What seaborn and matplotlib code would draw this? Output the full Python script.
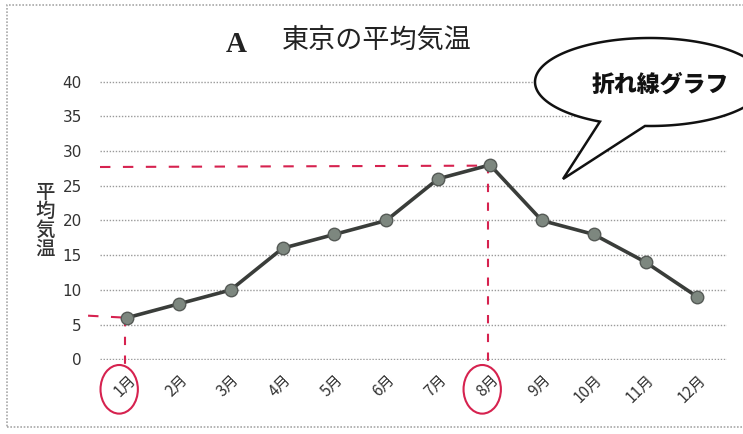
import numpy as np
import pandas as pd
import matplotlib
matplotlib.use("Agg")
import matplotlib.pyplot as plt
from matplotlib.patches import Ellipse, PathPatch, Rectangle
from matplotlib.path import Path
import seaborn as sns

# 東京の月別平均気温
months = ["1月", "2月", "3月", "4月", "5月", "6月",
          "7月", "8月", "9月", "10月", "11月", "12月"]
temps = [6, 8, 10, 16, 18, 20, 26, 28, 20, 18, 14, 9]
yticks = [0, 5, 10, 15, 20, 25, 30, 35, 40]
highlight = ["1月", "8月"]

sns.set_theme(style="white")
plt.rcParams["font.family"] = ["Noto Sans CJK JP", "DejaVu Sans"]

W, H = 743, 434
fig = plt.figure(figsize=(W / 100, H / 100), dpi=100)
fig.patch.set_facecolor("white")

# outer frame (dotted gray)
fig.patches.append(Rectangle((7 / W, (H - 427) / H), 760 / W, 422 / H,
                             transform=fig.transFigure, fill=False,
                             edgecolor="#a8a8a8", lw=1.2, ls=(0, (1, 1))))

ax = fig.add_axes([100 / W, 74 / H, 627 / W, 279 / H])
ax.set_facecolor("none")

df = pd.DataFrame({"month": months, "temp": temps})
sns.lineplot(data=df, x="month", y="temp", sort=False, ax=ax,
             color="#3a3d3a", lw=2.6, marker="o", markersize=9,
             markerfacecolor="#7d877f", markeredgecolor="#555a56",
             markeredgewidth=1.0, zorder=5)

ax.set_ylim(-0.08, 40.08)
ax.set_xlim(-0.52, 11.57)
ax.set_yticks(yticks)
ax.set_yticklabels([str(v) for v in yticks], fontsize=11, color="#333333",
                   family=["DejaVu Sans"])
ax.yaxis.grid(True, color="#9a9a9a", lw=1.0, ls=(0, (1, 1.2)))
ax.xaxis.grid(False)
for s in ax.spines.values():
    s.set_visible(False)
ax.tick_params(axis="both", length=0)
ax.tick_params(axis="y", pad=13)
ax.tick_params(axis="x", pad=8)
ax.set_xticks(range(len(months)))
ax.set_xticklabels(months, rotation=45, ha="right", rotation_mode="anchor",
                   fontsize=11, color="#333333")
ax.set_xlabel("")
ax.set_ylabel("")

# vertical axis title, stacked characters
fig.text(45 / W, (H - 221) / H, "平\n均\n気\n温", ha="center", va="center",
         fontsize=14, fontweight="medium", color="#333333", linespacing=1.0)

# chart title
fig.text(236 / W, (H - 44) / H, "A", ha="center", va="center",
         fontsize=21, fontweight="bold", family=["Liberation Serif"],
         color="#222222")
fig.text(282 / W, (H - 40) / H, "東京の平均気温", ha="left", va="center",
         fontsize=19.5, color="#222222")

# red hand-drawn guides to the highlighted months
red = "#d6224f"
for m in highlight:
    i = months.index(m)
    t = temps[i]
    if i == 0:
        xs, ys = [-0.75, i], [t + 0.3, t]
    else:
        xs, ys = [-0.52, i], [t - 0.3, t - 0.1]
    ax.plot(xs, ys, color=red, lw=1.5, ls=(0, (5, 6)), clip_on=False, zorder=3)
    ax.plot([i - 0.03, i - 0.03], [t, -0.8], color=red, lw=1.5,
            ls=(0, (4, 5)), clip_on=False, zorder=3)
    ax.add_patch(Ellipse((i - 0.15, -4.3), 0.72, 7.0, fill=False,
                         edgecolor=red, lw=1.5, clip_on=False, zorder=3))

# speech bubble
cx, cy, a, b = 650, H - 82, 115, 44
th1, th2 = np.deg2rad(-92.5), np.deg2rad(-115.8)
ang = np.linspace(th1, th2 + 2 * np.pi, 200)
px = cx + a * np.cos(ang)
py = cy + b * np.sin(ang)
tip = (563, H - 179)
verts = list(zip(px, py)) + [tip, (px[0], py[0])]
codes = [Path.MOVETO] + [Path.LINETO] * (len(verts) - 2) + [Path.CLOSEPOLY]
bubble = PathPatch(Path(np.array(verts) / [W, H], codes),
                   transform=fig.transFigure, facecolor="white",
                   edgecolor="#111111", lw=1.8, zorder=10)
fig.patches.append(bubble)
fig.text(660 / W, (H - 85) / H, "折れ線グラフ", ha="center", va="center",
         fontsize=16.5, fontweight="black", color="#111111", zorder=11)

fig.savefig("out.png", dpi=100)
